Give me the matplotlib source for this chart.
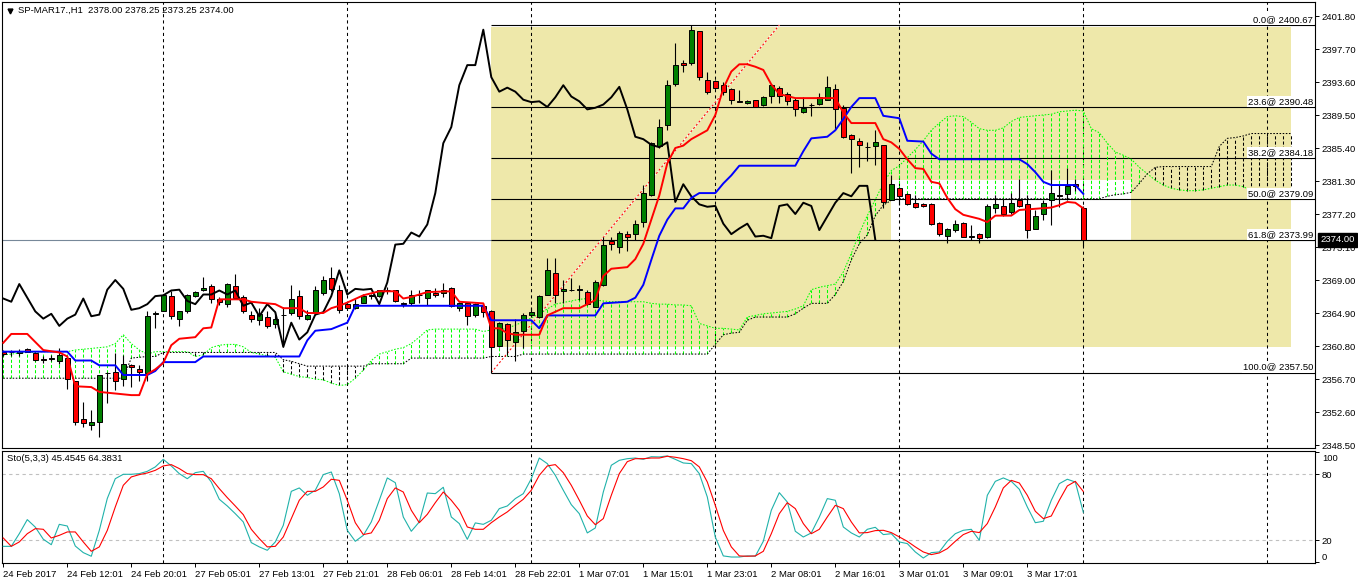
import numpy as np
import matplotlib
matplotlib.use("Agg")
import matplotlib.pyplot as plt
import matplotlib.transforms as mtransforms
from matplotlib.patches import Rectangle

plt.rcParams["font.family"] = ["Liberation Sans", "DejaVu Sans"]
plt.rcParams["font.size"] = 6.8

# SP-MAR17 H1 candles, one value per bar (bar 0 = 24 Feb 04:01)
opens = [
    2360.1, 2360.0, 2359.9, 2360.4, 2359.9, 2359.2, 2359.2, 2358.9, 2359.3, 2356.4,
    2351.7, 2351.0, 2351.4, 2357.4, 2357.6, 2356.7, 2358.4, 2358.0, 2357.4, 2364.8,
    2365.2, 2367.0, 2364.2, 2365.1, 2367.0, 2367.7, 2368.3, 2366.7, 2366.0, 2368.2,
    2366.9, 2364.7, 2364.0, 2364.4, 2363.5, 2364.6, 2364.9, 2367.0, 2364.2, 2364.9,
    2367.4, 2369.2, 2367.8, 2366.0, 2365.5, 2366.2, 2367.0, 2367.0, 2367.7, 2367.7,
    2366.2, 2366.2, 2367.1, 2366.8, 2367.4, 2367.4, 2368.0, 2365.5, 2366.2, 2364.7,
    2365.8, 2365.2, 2360.8, 2363.5, 2361.3, 2362.7, 2364.7, 2364.4, 2367.2, 2369.9,
    2367.6, 2367.7, 2367.7, 2367.5, 2365.7, 2368.4, 2373.8, 2373.1, 2374.7, 2374.7,
    2376.2, 2379.6, 2385.6, 2388.3, 2393.4, 2396.0, 2395.9, 2399.9, 2393.9, 2393.7,
    2393.2, 2392.7, 2391.2, 2391.0, 2391.4, 2390.7, 2391.9, 2392.9, 2392.1, 2391.4,
    2389.9, 2390.8, 2390.9, 2391.4, 2392.7, 2390.4, 2387.0, 2386.3, 2385.5, 2385.7,
    2385.8, 2379.0, 2380.4, 2379.7, 2378.6, 2378.4, 2378.4, 2376.1, 2374.5, 2375.2,
    2376.1, 2374.4, 2374.7, 2374.4, 2377.9, 2378.2, 2377.4, 2378.9, 2378.4, 2375.4,
    2377.2, 2378.9, 2379.6, 2379.7, 2380.9, 2378.00]
highs = [
    2360.3, 2360.3, 2360.4, 2360.5, 2360.1, 2359.5, 2359.7, 2360.6, 2359.6, 2356.4,
    2353.9, 2352.8, 2357.2, 2357.6, 2359.9, 2359.7, 2358.6, 2358.4, 2365.2, 2365.2,
    2367.3, 2367.6, 2365.2, 2367.3, 2367.6, 2369.4, 2368.5, 2366.9, 2368.6, 2369.8,
    2367.1, 2365.1, 2365.5, 2365.1, 2364.9, 2365.7, 2368.4, 2367.8, 2365.3, 2368.2,
    2369.5, 2370.6, 2368.4, 2366.3, 2366.7, 2367.3, 2367.3, 2367.8, 2368.1, 2367.8,
    2366.3, 2367.8, 2367.8, 2367.8, 2368.0, 2368.6, 2368.1, 2366.3, 2366.3, 2366.2,
    2366.1, 2365.3, 2363.8, 2363.7, 2364.2, 2364.9, 2365.7, 2367.1, 2371.7, 2371.7,
    2369.0, 2369.2, 2368.4, 2367.7, 2369.0, 2374.4, 2374.4, 2375.1, 2375.1, 2376.5,
    2380.8, 2386.2, 2389.0, 2393.9, 2398.5, 2396.3, 2400.67, 2399.9, 2394.9, 2393.8,
    2393.6, 2392.8, 2392.6, 2391.4, 2391.4, 2391.8, 2393.4, 2393.1, 2392.3, 2391.6,
    2391.7, 2391.0, 2392.2, 2394.3, 2393.4, 2390.7, 2387.2, 2386.6, 2386.2, 2387.6,
    2385.8, 2382.1, 2380.6, 2379.8, 2379.6, 2378.6, 2378.6, 2376.2, 2375.5, 2376.4,
    2376.2, 2375.8, 2374.8, 2378.4, 2379.6, 2379.1, 2379.8, 2381.6, 2379.6, 2377.7,
    2378.9, 2382.7, 2380.8, 2382.9, 2381.5, 2378.25]
lows = [
    2359.5, 2359.5, 2359.6, 2360.0, 2359.0, 2358.7, 2358.9, 2358.6, 2355.4, 2351.0,
    2350.8, 2350.4, 2349.5, 2353.7, 2355.3, 2355.8, 2355.7, 2356.5, 2356.4, 2363.0,
    2365.1, 2364.2, 2363.3, 2364.9, 2366.9, 2367.6, 2366.1, 2365.9, 2365.7, 2366.8,
    2364.9, 2363.8, 2363.4, 2363.1, 2363.0, 2360.7, 2364.6, 2364.2, 2364.0, 2364.7,
    2367.1, 2367.6, 2364.9, 2365.3, 2365.4, 2366.1, 2366.7, 2366.9, 2367.3, 2366.3,
    2365.7, 2365.9, 2366.1, 2365.9, 2366.9, 2366.9, 2365.7, 2365.1, 2363.4, 2364.4,
    2364.4, 2357.5, 2360.7, 2359.7, 2358.9, 2360.5, 2364.4, 2364.3, 2367.1, 2366.1,
    2366.1, 2367.6, 2366.5, 2365.9, 2365.6, 2368.2, 2372.7, 2372.3, 2372.6, 2374.0,
    2375.6, 2379.4, 2385.4, 2387.6, 2393.1, 2394.9, 2395.7, 2393.8, 2392.1, 2392.8,
    2392.0, 2390.9, 2391.1, 2390.9, 2390.5, 2390.6, 2391.0, 2391.0, 2390.7, 2389.4,
    2389.7, 2389.4, 2390.7, 2391.4, 2387.7, 2386.6, 2382.3, 2383.1, 2383.8, 2383.3,
    2377.9, 2378.9, 2378.3, 2378.3, 2377.9, 2378.1, 2375.8, 2374.5, 2373.6, 2375.0,
    2374.3, 2374.0, 2373.6, 2374.2, 2377.3, 2376.9, 2377.2, 2378.1, 2374.2, 2375.3,
    2376.4, 2375.8, 2378.1, 2379.0, 2380.1, 2373.25]
closes = [
    2359.8, 2360.1, 2360.2, 2360.1, 2359.1, 2359.1, 2359.3, 2359.7, 2356.7, 2351.4,
    2351.2, 2351.3, 2357.2, 2357.4, 2356.5, 2358.6, 2358.2, 2357.6, 2364.5, 2364.9,
    2367.2, 2364.5, 2365.2, 2367.2, 2367.5, 2368.0, 2366.7, 2366.3, 2368.5, 2366.8,
    2365.1, 2364.2, 2364.8, 2363.3, 2364.2, 2364.7, 2366.7, 2364.5, 2364.7, 2367.8,
    2369.0, 2367.9, 2365.3, 2365.5, 2366.0, 2367.0, 2367.1, 2367.7, 2367.8, 2366.4,
    2366.0, 2367.2, 2367.2, 2367.7, 2367.2, 2367.7, 2365.8, 2366.2, 2364.5, 2366.0,
    2365.0, 2360.7, 2363.7, 2361.6, 2362.5, 2364.7, 2365.0, 2367.0, 2370.2, 2367.2,
    2367.9, 2367.8, 2367.9, 2366.0, 2368.7, 2373.4, 2373.5, 2374.9, 2374.4, 2375.9,
    2379.8, 2386.0, 2388.0, 2393.2, 2395.7, 2395.7, 2400.1, 2394.2, 2392.4, 2392.9,
    2392.4, 2391.4, 2391.1, 2391.2, 2390.5, 2391.7, 2393.2, 2391.8, 2391.2, 2390.2,
    2390.4, 2390.8, 2391.7, 2393.0, 2390.2, 2386.8, 2386.5, 2385.8, 2385.5, 2386.1,
    2378.7, 2380.9, 2379.4, 2378.4, 2378.1, 2378.2, 2376.0, 2374.7, 2375.4, 2376.0,
    2374.4, 2374.5, 2374.2, 2378.2, 2378.4, 2377.2, 2378.6, 2378.2, 2375.2, 2376.9,
    2378.6, 2379.8, 2379.4, 2380.7, 2380.7, 2374.00]

# Ichimoku: tenkan / kijun read at their break points
tenkan_x = [0, 1, 3, 5, 7, 8, 9, 11, 12, 16, 17, 18, 19, 20, 21, 22, 24, 25, 26, 27,
            30, 31, 34, 35, 37, 38, 40, 41, 42, 43, 45, 47, 49, 50, 51, 53, 56, 57, 60, 61,
            62, 63, 64, 67, 68, 70, 72, 74, 75, 76, 78, 79, 80, 81, 82, 83, 84, 85, 86, 88,
            89, 90, 91, 92, 93, 94, 95, 96, 97, 99, 104, 105, 106, 109, 110, 111, 112, 113, 114, 115,
            116, 117, 118, 119, 120, 122, 123, 124, 126, 127, 131, 132, 133, 134, 135]
tenkan = [2361.2, 2362.3, 2362.3, 2360.3, 2360.0, 2359.5, 2355.8, 2355.7, 2355.1, 2354.7,
          2354.7, 2357.3, 2357.9, 2358.7, 2360.9, 2361.7, 2361.9, 2363.0, 2363.1, 2366.6,
          2366.6, 2366.3, 2366.0, 2365.5, 2365.5, 2364.9, 2364.9, 2365.5, 2365.8, 2366.2,
          2367.1, 2367.6, 2367.6, 2366.7, 2366.9, 2367.5, 2367.6, 2366.3, 2366.1, 2363.0,
          2363.0, 2362.4, 2362.2, 2362.2, 2364.6, 2365.5, 2365.5, 2366.5, 2369.5, 2370.4,
          2370.6, 2371.6, 2373.5, 2376.5, 2379.5, 2383.5, 2385.4, 2385.7, 2386.5, 2387.6,
          2389.5, 2392.8, 2394.9, 2395.8, 2395.8, 2395.5, 2395.1, 2393.3, 2392.1, 2391.6,
          2391.6, 2389.8, 2388.5, 2388.5, 2386.5, 2386.1, 2385.3, 2384.0, 2382.9, 2382.8,
          2381.2, 2381.0, 2379.2, 2377.8, 2377.1, 2376.6, 2376.2, 2377.0, 2377.0, 2377.7,
          2378.0, 2378.3, 2378.7, 2378.6, 2377.9]
kijun_x = [0, 8, 9, 11, 12, 14, 15, 18, 19, 20, 24, 25, 37, 38, 39, 41, 43, 44, 60, 61,
           66, 67, 68, 74, 75, 78, 79, 80, 81, 82, 83, 84, 85, 86, 87, 89, 90, 91, 92, 99,
           100, 101, 103, 104, 105, 106, 107, 109, 110, 112, 113, 115, 116, 117, 127, 128, 129, 130, 131, 134,
           135]
kijun = [2360.1, 2360.1, 2359.0, 2359.0, 2358.4, 2358.4, 2357.2, 2357.2, 2357.7, 2358.8,
         2358.8, 2359.5, 2359.5, 2361.5, 2362.7, 2362.9, 2363.7, 2365.8, 2365.8, 2364.0,
         2364.0, 2363.0, 2364.6, 2364.6, 2366.1, 2366.3, 2366.8, 2368.4, 2371.5, 2374.5,
         2376.5, 2377.9, 2377.9, 2379.2, 2379.8, 2379.8, 2381.0, 2382.0, 2383.2, 2383.2,
         2385.0, 2386.6, 2386.8, 2387.6, 2389.0, 2390.5, 2391.6, 2391.6, 2389.4, 2389.1,
         2386.3, 2386.2, 2384.7, 2384.0, 2384.0, 2383.4, 2382.4, 2381.2, 2380.8, 2380.8,
         2379.7]

# Senkou spans, one value per bar 0..161 (cloud runs 26 bars ahead)
span_a = [
    2359.7, 2359.8, 2359.9, 2360.0, 2360.0, 2360.1, 2360.1, 2360.1, 2360.1, 2360.3,
    2360.4, 2360.5, 2360.6, 2360.7, 2361.1, 2362.2, 2361.1, 2360.3, 2359.8, 2360.1,
    2360.1, 2360.1, 2360.1, 2360.1, 2359.5, 2359.7, 2360.6, 2360.9, 2361.0, 2361.0,
    2360.7, 2360.0, 2359.8, 2359.6, 2359.4, 2357.6, 2357.3, 2357.0, 2356.9, 2356.7,
    2356.6, 2356.2, 2355.9, 2356.0, 2356.8, 2357.8, 2359.0, 2359.8, 2360.1, 2360.4,
    2360.6, 2361.1, 2361.9, 2362.8, 2362.9, 2362.9, 2362.9, 2362.9, 2362.9, 2362.9,
    2362.6, 2362.8, 2362.8, 2363.0, 2363.4, 2363.8, 2364.3, 2364.8, 2365.4, 2366.0,
    2366.2, 2366.4, 2366.6, 2366.7, 2366.5, 2366.4, 2366.3, 2366.3, 2366.3, 2366.3,
    2366.3, 2366.1, 2366.0, 2366.0, 2365.9, 2365.9, 2365.8, 2363.6, 2363.3, 2363.0,
    2363.0, 2362.9, 2362.8, 2364.4, 2364.6, 2364.8, 2364.9, 2365.0, 2365.1, 2365.4,
    2365.8, 2367.8, 2368.1, 2368.3, 2368.5, 2370.0, 2372.3, 2374.8, 2377.0, 2379.0,
    2381.0, 2382.6, 2383.2, 2384.2, 2385.2, 2386.3, 2387.6, 2388.5, 2389.3, 2389.4,
    2389.3, 2388.6, 2387.8, 2387.6, 2387.6, 2387.9, 2388.7, 2389.2, 2389.3, 2389.4,
    2389.5, 2389.6, 2389.9, 2390.0, 2390.1, 2390.0, 2387.8, 2387.3, 2386.0, 2384.9,
    2384.5, 2384.0, 2383.0, 2382.2, 2381.4, 2380.8, 2380.4, 2380.2, 2380.1, 2380.1,
    2380.2, 2380.4, 2380.6, 2380.8, 2380.8, 2380.6, 2380.1, 2380.1, 2380.1, 2380.1,
    2380.1, 2380.1]
span_b = [
    2356.8, 2356.8, 2356.8, 2356.8, 2356.8, 2356.8, 2356.8, 2356.8, 2356.8, 2356.8,
    2356.8, 2356.8, 2356.8, 2356.8, 2356.8, 2356.8, 2359.3, 2359.4, 2359.5, 2359.5,
    2360.0, 2360.0, 2360.0, 2360.0, 2360.0, 2360.0, 2360.0, 2360.0, 2360.0, 2360.0,
    2360.0, 2360.0, 2360.0, 2360.0, 2360.0, 2359.1, 2358.9, 2358.6, 2358.3, 2358.3,
    2358.3, 2358.3, 2358.3, 2358.3, 2358.3, 2358.3, 2358.6, 2358.6, 2358.6, 2358.6,
    2358.6, 2359.3, 2359.3, 2359.3, 2359.3, 2359.3, 2359.3, 2359.3, 2359.3, 2359.3,
    2359.3, 2359.5, 2359.5, 2359.5, 2359.5, 2359.8, 2359.8, 2359.8, 2359.8, 2359.8,
    2359.8, 2359.8, 2359.8, 2359.8, 2359.8, 2359.8, 2359.8, 2359.8, 2359.8, 2359.8,
    2359.8, 2359.8, 2359.8, 2359.8, 2359.8, 2359.8, 2359.8, 2359.8, 2359.8, 2361.0,
    2362.2, 2362.4, 2362.5, 2364.0, 2364.4, 2364.4, 2364.4, 2364.4, 2364.4, 2364.8,
    2365.5, 2366.1, 2366.1, 2366.1, 2367.2, 2368.8, 2371.5, 2373.5, 2374.6, 2377.0,
    2378.3, 2378.9, 2379.09, 2379.09, 2379.09, 2379.09, 2379.09, 2379.09, 2379.09, 2379.09,
    2379.09, 2379.09, 2379.09, 2379.09, 2379.09, 2379.09, 2379.09, 2379.09, 2379.09, 2379.09,
    2379.09, 2379.09, 2379.09, 2379.09, 2379.09, 2379.09, 2379.09, 2379.09, 2379.4, 2379.6,
    2379.7, 2379.9, 2381.0, 2382.2, 2383.0, 2383.1, 2383.1, 2383.1, 2383.1, 2383.1,
    2383.1, 2383.1, 2385.6, 2386.6, 2386.7, 2386.9, 2387.2, 2387.2, 2387.2, 2387.2,
    2387.2, 2387.2]

# Stochastic (5,3,3)
stoch_k = [
    14.5, 14.5, 26, 38.8, 32, 21, 16, 34.5, 33, 14.8,
    8.8, 5.5, 29, 58, 76, 80, 80, 80.6, 82.7, 86.7,
    93.6, 87.6, 80.6, 76, 81.5, 82.7, 73, 57.3, 51.2, 44.2,
    36.7, 17.9, 14, 10.9, 18.5, 33.6, 64.5, 67.6, 60.9, 65.5,
    79.7, 82.1, 62.4, 29.1, 19.1, 24.5, 36.7, 56.4, 76.7, 72.4,
    41.2, 28.2, 36.7, 63, 62.4, 68.2, 41.2, 35.2, 20.9, 35.8,
    34.5, 38.2, 48.8, 51.2, 57.9, 62.4, 76, 94.8, 89.7, 79.1,
    65.5, 52.4, 44.2, 26.7, 31.2, 63.9, 88.2, 92.7, 94.2, 94.8,
    93.6, 96, 95.8, 96.7, 93.6, 90.3, 89.7, 80.6, 59.4, 23,
    5.8, 4.8, 4.8, 5.8, 5.5, 19.1, 47.3, 63.3, 54.8, 28.2,
    23, 26.7, 41.2, 57.9, 56.4, 32.1, 26.7, 23, 30, 31.8,
    25.2, 26, 18.5, 17, 9.4, 3.9, 8.8, 9.4, 19.1, 26,
    29.1, 30, 20, 60.9, 73.6, 76.7, 73.6, 66.4, 50.3, 36,
    37.3, 56.4, 71.5, 75.5, 73, 45.4545]
stoch_d = [
    22.1, 14.5, 18.5, 26, 30.6, 30, 22.1, 24.5, 27.6, 27.6,
    18.5, 10, 14, 29, 50.3, 70, 77.6, 79.7, 81.2, 83.6,
    87.6, 88.8, 85.2, 80.6, 79.7, 79.7, 76, 67, 58.8, 51.2,
    43.3, 30, 21.5, 14, 14.5, 23, 39.7, 56.4, 64.5, 64.5,
    68.5, 75.5, 74.5, 56.4, 36, 25.2, 26.7, 38.2, 57.9, 67.6,
    63.9, 47.3, 36, 43.6, 54.2, 63.9, 56.4, 47.3, 32.1, 30,
    30, 36, 41.2, 45.8, 51.8, 57.3, 65.5, 79.1, 87.6, 88.8,
    81.5, 70, 56.4, 42.1, 34.2, 39.7, 60.9, 80.6, 91.5, 94.2,
    94.2, 94.8, 94.8, 96.4, 95.5, 94.2, 92.4, 86.7, 73, 51.8,
    29, 14, 5.8, 5.5, 5.8, 10, 26, 44.2, 54.2, 48.8,
    35.2, 26, 30, 41.2, 51.8, 48.8, 36.7, 26.7, 27, 28.8,
    29.1, 27, 23, 19.1, 14, 9.4, 7, 8.5, 12.4, 19.1,
    25.2, 28.2, 27, 35.2, 50.3, 67.6, 74.5, 72.1, 60.9, 46.4,
    39.7, 42.1, 56.4, 69.4, 73.6, 64.3831]

# Fibonacci retracement drawn on the chart
fib_levels = [0.0, 23.6, 38.2, 50.0, 61.8, 100.0]
fib_prices = [2400.67, 2390.48, 2384.18, 2379.09, 2373.99, 2357.50]
fib_trend_x = [61, 97]
fib_trend_y = [2357.50, 2400.67]

price_ticks = [2348.50, 2352.60, 2356.70, 2360.80, 2364.90, 2369.00, 2373.10,
               2377.20, 2381.30, 2385.40, 2389.50, 2393.60, 2397.70, 2401.80]
stoch_ticks = [0, 20, 80, 100]
time_labels = ["24 Feb 2017", "24 Feb 12:01", "24 Feb 20:01", "27 Feb 05:01", "27 Feb 13:01",
               "27 Feb 21:01", "28 Feb 06:01", "28 Feb 14:01", "28 Feb 22:01", "1 Mar 07:01",
               "1 Mar 15:01", "1 Mar 23:01", "2 Mar 08:01", "2 Mar 16:01", "3 Mar 01:01",
               "3 Mar 09:01", "3 Mar 17:01"]
grid_bars = [20, 43, 66, 89, 112, 135, 158]
last_price = 2374.00

n = len(closes)
bars = np.arange(n)
o = np.array(opens)
c = np.array(closes)
up = c >= o

W, H = 1358.0, 584.0
fig = plt.figure(figsize=(W / 100, H / 100), dpi=100)
ax = fig.add_axes([2 / W, 1 - 448 / H, 1313 / W, 446 / H])
ax2 = fig.add_axes([2 / W, 1 - 563 / H, 1313 / W, 112 / H], sharex=ax)
ax.set_xlim(-0.16, 163.96)
ax.set_ylim(2348.13, 2403.54)
ax2.set_ylim(-0.64, 101.18)

#rectangles behind the price
ax.add_patch(Rectangle((61, 2360.72), 100, 2400.4 - 2360.72, facecolor="#EEE8AA",
                       edgecolor="none", zorder=0.5))
ax.add_patch(Rectangle((111, 2373.99), 30, 2381.42 - 2373.99, facecolor="white",
                       edgecolor="none", zorder=0.6))

#grid
for a in (ax, ax2):
    for g in grid_bars:
        a.axvline(g, color="black", lw=0.75, ls=(0, (3, 3)), zorder=0.8)

ax.axhline(last_price, color="#778899", lw=0.8, zorder=0.9)
ax.hlines(fib_prices, 61, 170, color="black", lw=0.8, zorder=1.0)

#cloud
sa = np.array(span_a)
sb = np.array(span_b)
cb = np.arange(len(sa))
bull = sa >= sb
ax.vlines(cb[bull], sb[bull], sa[bull], color="#00FF00", lw=0.75, ls=(0, (3, 2)), zorder=1.2)
ax.vlines(cb[~bull], sa[~bull], sb[~bull], color="black", lw=0.75, ls=(0, (3, 2)), zorder=1.2)
ax.plot(cb, sa, color="#00FF00", lw=0.75, ls=(0, (1.5, 1.5)), zorder=1.3)
ax.plot(cb, sb, color="black", lw=0.75, ls=(0, (1.5, 1.5)), zorder=1.3)

#fib trend line
ax.plot(fib_trend_x, fib_trend_y, color="white", lw=0.75, zorder=1.4)
ax.plot(fib_trend_x, fib_trend_y, color="red", lw=0.75, ls=(0, (2, 2)), zorder=1.45)

#candles
ax.vlines(bars, lows, highs, color="black", lw=0.8, zorder=2)
ax.bar(bars[up], (c - o)[up], bottom=o[up], width=0.62, color="#008000",
       edgecolor="black", linewidth=0.7, zorder=2.1)
ax.bar(bars[~up], (o - c)[~up], bottom=c[~up], width=0.62, color="#FF0000",
       edgecolor="black", linewidth=0.7, zorder=2.1)

#ichimoku lines, chikou = close moved back 26 bars
ax.plot(bars[:n - 26], closes[26:], color="black", lw=1.4, zorder=3)
ax.plot(kijun_x, kijun, color="#0000FF", lw=1.4, zorder=3.1)
ax.plot(tenkan_x, tenkan, color="#FF0000", lw=1.4, zorder=3.2)

#fib labels
trans = mtransforms.blended_transform_factory(ax.transAxes, ax.transData)
for lev, pr in zip(fib_levels, fib_prices):
    ax.text(0.9985, pr + 0.12, f"{lev:.1f}@ {pr:.2f}", transform=trans, ha="right",
            va="bottom", bbox=dict(boxstyle="square,pad=0.1", fc="white", ec="none"), zorder=6)

ax.text(1.0038, last_price, f"{last_price:.2f}", transform=trans, ha="left", va="center",
        color="white", bbox=dict(boxstyle="square,pad=0.25", fc="black", ec="black"),
        zorder=8, clip_on=False)

ax.text(0.0122, 0.982, "SP-MAR17.,H1  2378.00 2378.25 2373.25 2374.00",
        transform=ax.transAxes, ha="left", va="center", zorder=7)
ax.plot([0.0059], [0.9798], marker="v", color="black", ms=3.5, transform=ax.transAxes,
        clip_on=False)

#stochastic
ax2.axhline(80, color="#C0C0C0", lw=0.8, ls=(0, (3, 3)))
ax2.axhline(20, color="#C0C0C0", lw=0.8, ls=(0, (3, 3)))
ax2.plot(bars, stoch_k, color="#20B2AA", lw=0.8, zorder=3)
ax2.plot(bars, stoch_d, color="#FF0000", lw=0.8, zorder=3.1)
ax2.text(0.0038, 0.9286, "Sto(5,3,3) 45.4545 64.3831", transform=ax2.transAxes,
         ha="left", va="center")

#axes look
for a in (ax, ax2):
    for s in a.spines.values():
        s.set_color("black")
        s.set_linewidth(0.8)
    a.yaxis.tick_right()
    a.tick_params(axis="y", length=3, width=0.7, pad=2, labelsize=6.8, colors="black")

ax.set_yticks(price_ticks)
ax.set_yticklabels([f"{v:.2f}" for v in price_ticks])
ax.tick_params(axis="x", bottom=False, labelbottom=False)

ax2.set_yticks(stoch_ticks)
ax2.set_yticklabels([str(v) for v in stoch_ticks])
ax2.set_xticks(np.arange(0, n, 8))
ax2.set_xticklabels(time_labels, ha="left")
ax2.tick_params(axis="x", length=3, width=0.7, pad=2, labelsize=6.8)
ax.set_xlim(-0.16, 163.96)

# mt4 keeps the 0 and 100 labels inside the panel
for lbl in ax2.get_yticklabels():
    if lbl.get_text() == "100":
        lbl.set_transform(lbl.get_transform() + mtransforms.ScaledTranslation(0, -0.048, fig.dpi_scale_trans))
    if lbl.get_text() == "0":
        lbl.set_transform(lbl.get_transform() + mtransforms.ScaledTranslation(0, 0.056, fig.dpi_scale_trans))

fig.savefig("out.png", dpi=100)
